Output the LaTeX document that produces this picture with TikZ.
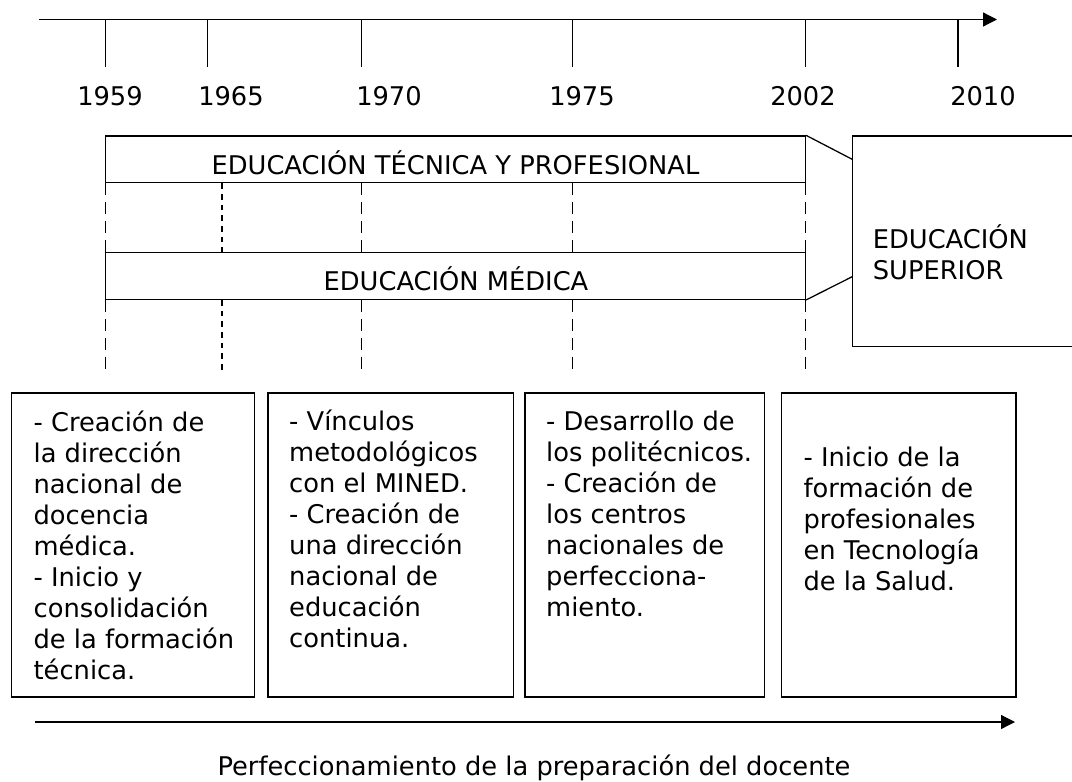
\documentclass[tikz,border=0pt]{standalone}
\usepackage{fontspec}
\setmainfont{DejaVu Sans}
\usetikzlibrary{arrows.meta,fit}
\begin{document}
\begin{tikzpicture}[x=0.75pt,y=-0.75pt,line width=0.95pt,
  every node/.style={font=\fontsize{19.3}{23.25}\selectfont},
  boxst/.style={draw,inner sep=0pt},
  lbl/.style={inner sep=0pt,anchor=base},
  txt/.style={inner sep=0pt,anchor=base west},
  arr/.style={-{Triangle[length=10.5pt,width=10.5pt]}},
  ldash/.style={dash pattern=on 9pt off 5.2pt},
  sdash/.style={dash pattern=on 4.2pt off 3.8pt}]
\useasboundingbox (0,0) rectangle (1072,782);
\clip (0,0) rectangle (1072,782);
% top axis
\coordinate (ax0) at (39,19.5);
\coordinate (ax1) at (997,19.5);
\draw[arr] (ax0) -- (ax1);
\coordinate (t1) at (105.4,19.5);
\coordinate (t2) at (207.6,19.5);
\coordinate (t3) at (361.6,19.5);
\coordinate (t4) at (572.2,19.5);
\coordinate (t5) at (805.5,19.5);
\coordinate (t6) at (958,19.5);
\coordinate (tb) at (0,67);
\foreach \t in {t1,t2,t3,t4,t5,t6} \draw (\t) -- (\t |- tb);
% years
\node[lbl] (y1) at (110,105) {1959};
\node[lbl] (y2) at (231,105) {1965};
\node[lbl] (y3) at (389,105) {1970};
\node[lbl] (y4) at (582,105) {1975};
\node[lbl] (y5) at (803,105) {2002};
\node[lbl] (y6) at (983,105) {2010};
% bands
\node[boxst,fit={(105.4,136)(805.5,182.7)}] (etp) {};
\node[lbl] (etpt) at (455.5,174) {EDUCACIÓN TÉCNICA Y PROFESIONAL};
\node[boxst,fit={(105.4,252.7)(805.5,299.3)}] (em) {};
\node[lbl] (emt) at (456,290.5) {EDUCACIÓN MÉDICA};
% superior
\node[boxst,fit={(852.2,136)(1090,346.5)}] (es) {};
\node[txt] (est) at (872.2,248) {\parbox[t]{200pt}{\fontsize{19.3}{23.6}\selectfont EDUCACIÓN\\SUPERIOR}};
\coordinate (c1) at (852.2,159.3);
\coordinate (c2) at (852.2,276.7);
\draw (etp.north east) -- (c1);
\draw (em.south east) -- (c2);
% dashed dividers
\coordinate (d2) at (222,0);
\coordinate (dend) at (0,370);
\foreach \t in {t1,t3,t4,t5}{
  \draw[ldash] (\t |- etp.south) -- (\t |- em.north);
  \draw[ldash] (\t |- em.south) -- (\t |- dend);
}
\draw[sdash] (d2 |- etp.south) -- (d2 |- em.north);
\draw[sdash] (d2 |- em.south) -- (d2 |- dend);
% bottom boxes
\node[boxst,fit={(11.7,393)(254.3,697)}] (b1) {};
\node[boxst,fit={(268,393)(513.8,697)}] (b2) {};
\node[boxst,fit={(525.1,393)(764.5,697)}] (b3) {};
\node[boxst,fit={(781.7,393)(1016,697)}] (b4) {};
\node[txt] (b1t) at (33,431) {\parbox[t]{300pt}{- Creación de\\la dirección\\nacional de\\docencia\\médica.\\- Inicio y\\consolidación\\de la formación\\técnica.}};
\node[txt] (b2t) at (288.6,430) {\parbox[t]{300pt}{- Vínculos\\metodológicos\\con el MINED.\\- Creación de\\una dirección\\nacional de\\educación\\continua.}};
\node[txt] (b3t) at (545.6,430) {\parbox[t]{300pt}{- Desarrollo de\\los politécnicos.\\- Creación de\\los centros\\nacionales de\\perfecciona-\\miento.}};
\node[txt] (b4t) at (803,466) {\parbox[t]{300pt}{- Inicio de la\\formación de\\profesionales\\en Tecnología\\de la Salud.}};
% bottom arrow
\coordinate (ba0) at (35,722);
\coordinate (ba1) at (1015,722);
\draw[arr] (ba0) -- (ba1);
\node[lbl] (cap) at (534,775) {Perfeccionamiento de la preparación del docente};
\end{tikzpicture}
\end{document}
